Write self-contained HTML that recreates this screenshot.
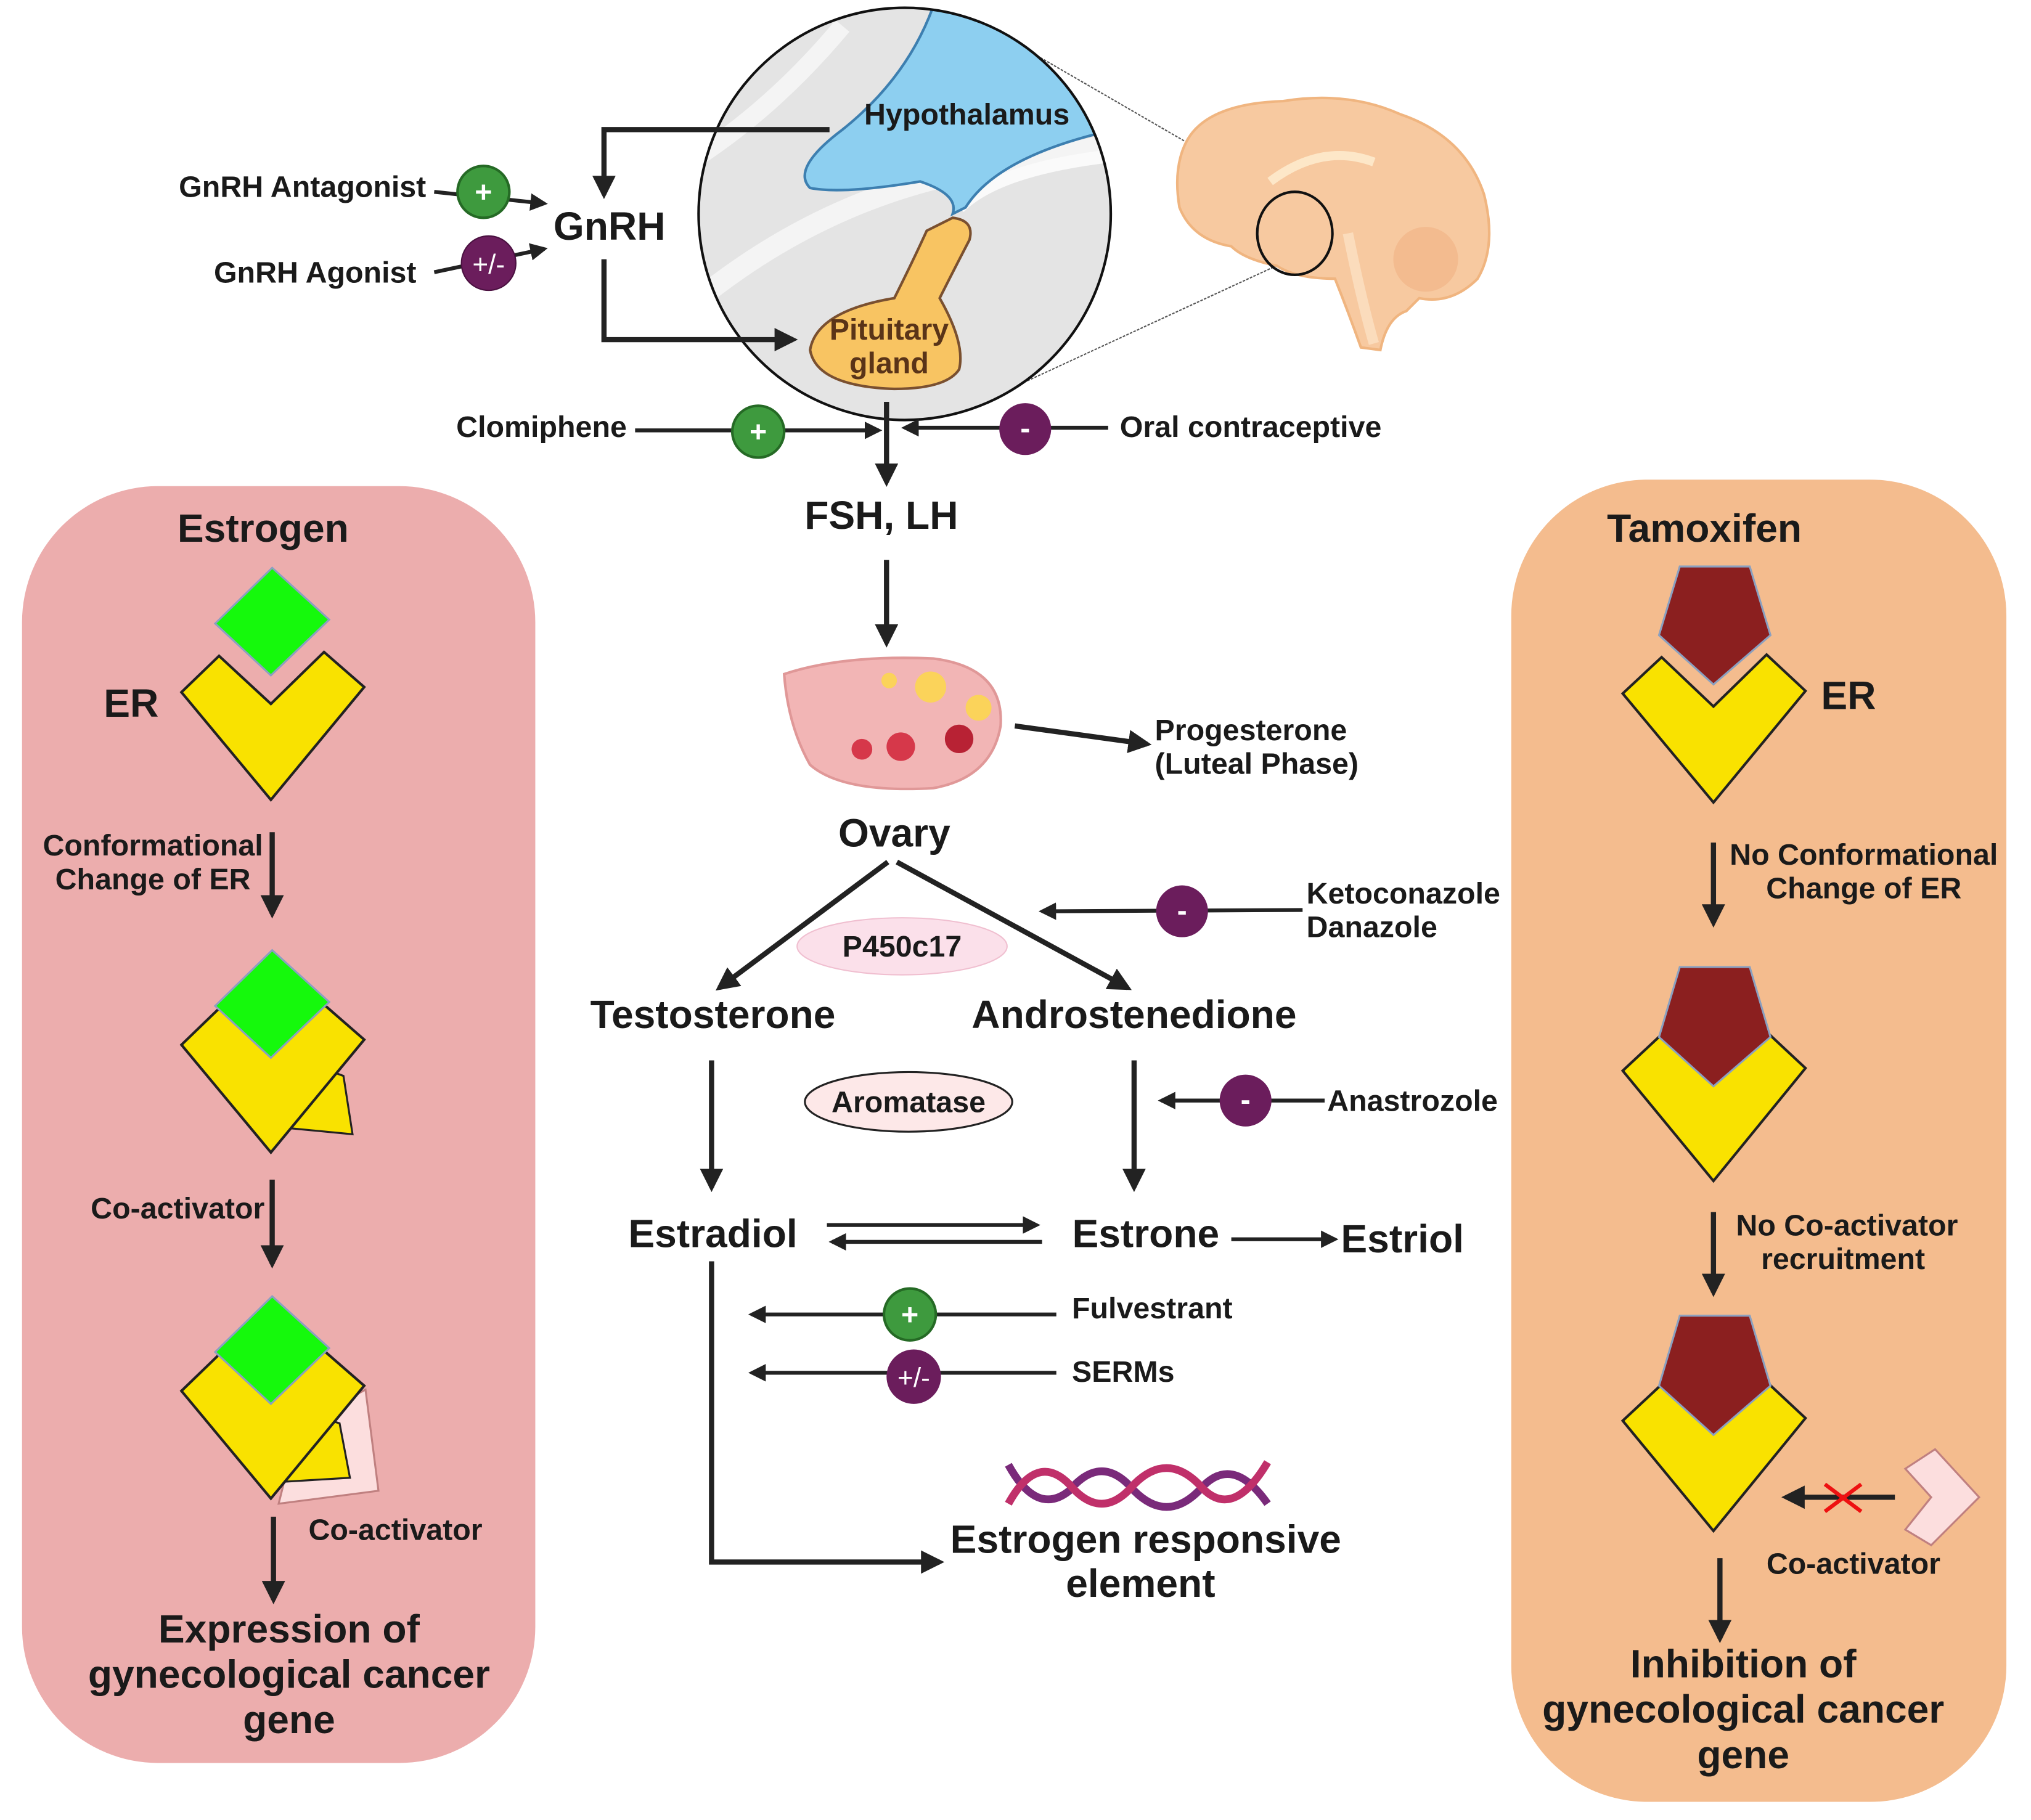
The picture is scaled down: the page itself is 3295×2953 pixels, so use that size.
<!DOCTYPE html>
<html><head><meta charset="utf-8"><style>
html,body{margin:0;padding:0;background:#fff}
svg{display:block}
text{font-family:"Liberation Sans",sans-serif;font-weight:bold;fill:#1a1a1a}
</style></head><body>
<svg width="3295" height="2953" viewBox="0 0 1567 1404" preserveAspectRatio="none" xmlns="http://www.w3.org/2000/svg">
<defs>
<marker id="a" viewBox="0 0 10 10" refX="8" refY="5" markerWidth="4.5" markerHeight="4.5" orient="auto"><path d="M0,0L10,5L0,10z" fill="#222"/></marker>
<clipPath id="cc"><circle cx="698" cy="165" r="159"/></clipPath>
</defs>
<!-- panels -->
<rect x="17" y="375" width="396" height="985" rx="105" fill="#ecadad"/>
<rect x="1166" y="370" width="382" height="1020" rx="105" fill="#f4bc8e"/>

<!-- circle zoom -->
<line x1="795" y1="40" x2="985" y2="150" stroke="#555" stroke-width="1" stroke-dasharray="2,1"/>
<line x1="790" y1="295" x2="1000" y2="198" stroke="#555" stroke-width="1" stroke-dasharray="2,1"/>
<g clip-path="url(#cc)">
<rect x="538" y="5" width="322" height="322" fill="#e4e4e4"/>
<path d="M540,120 Q600,80 650,20" stroke="#f4f4f4" stroke-width="14" fill="none"/>
<path d="M540,230 Q640,150 760,130 Q820,120 860,110" stroke="#f4f4f4" stroke-width="16" fill="none"/>
<path d="M740,160 Q770,130 860,120" stroke="#fafafa" stroke-width="10" fill="none"/>
<path d="M720,5 Q700,60 650,100 Q610,130 625,145 Q650,150 710,140 Q740,150 735,165 L745,160 Q770,120 860,100 L860,5z" fill="#8dcff0" stroke="#3d7fb0" stroke-width="2"/>
<path d="M735,168 Q752,170 748,185 Q735,210 725,230 Q745,265 740,285 Q730,300 690,300 Q630,298 625,270 Q630,240 690,230 Q705,200 715,178z" fill="#f8c462" stroke="#7a5030" stroke-width="2"/>
</g>
<circle cx="698" cy="165" r="159" fill="none" stroke="#111" stroke-width="2"/>
<text x="746" y="96" font-size="23" text-anchor="middle">Hypothalamus</text>
<text x="686" y="262" font-size="23" text-anchor="middle" style="fill:#5a3418">Pituitary</text>
<text x="686" y="288" font-size="23" text-anchor="middle" style="fill:#5a3418">gland</text>

<!-- brain -->
<path d="M915,110 Q930,80 990,78 Q1040,70 1080,88 Q1130,105 1145,150 Q1155,190 1140,215 Q1120,235 1095,230 L1085,240 Q1070,245 1065,270 L1050,268 Q1040,240 1030,215 Q1000,215 985,205 Q960,200 950,190 Q920,185 910,160 Q905,130 915,110z" fill="#f7c9a0" stroke="#f0b580" stroke-width="2"/>
<path d="M980,140 Q1020,110 1060,125" stroke="#fde7c8" stroke-width="7" fill="none"/>
<path d="M1040,180 Q1050,230 1060,265" stroke="#fbdcbc" stroke-width="8" fill="none"/>
<circle cx="1100" cy="200" r="25" fill="#f3bb8f"/>
<ellipse cx="999" cy="180" rx="29" ry="32" fill="none" stroke="#111" stroke-width="2"/>

<!-- GnRH -->
<text x="427" y="185" font-size="30.5">GnRH</text>
<polyline points="640,100 466,100 466,150" fill="none" stroke="#222" stroke-width="4" marker-end="url(#a)"/>
<polyline points="466,200 466,262 612,262" fill="none" stroke="#222" stroke-width="4" marker-end="url(#a)"/>
<text x="138" y="152" font-size="23">GnRH Antagonist</text>
<text x="165" y="218" font-size="23">GnRH Agonist</text>
<line x1="335" y1="148" x2="420" y2="157" stroke="#222" stroke-width="3" marker-end="url(#a)"/>
<line x1="335" y1="210" x2="420" y2="192" stroke="#222" stroke-width="3" marker-end="url(#a)"/>
<circle cx="373" cy="148" r="20" fill="#3e9a3e" stroke="#256a25" stroke-width="2"/><text x="373" y="156" font-size="23" text-anchor="middle" style="fill:#fff">+</text>
<circle cx="377" cy="203" r="21" fill="#6b1d5c" stroke="#4a1040"/><text x="377" y="211" font-size="21" text-anchor="middle" style="fill:#fff;font-weight:normal">+/-</text>

<!-- Clomiphene / oral -->
<line x1="684" y1="310" x2="684" y2="372" stroke="#222" stroke-width="4" marker-end="url(#a)"/>
<text x="352" y="337" font-size="23">Clomiphene</text>
<line x1="490" y1="332" x2="678" y2="332" stroke="#222" stroke-width="3" marker-end="url(#a)"/>
<circle cx="585" cy="333" r="20" fill="#3e9a3e" stroke="#256a25" stroke-width="2"/><text x="585" y="341" font-size="23" text-anchor="middle" style="fill:#fff">+</text>
<line x1="855" y1="330" x2="698" y2="330" stroke="#222" stroke-width="3" marker-end="url(#a)"/>
<circle cx="791" cy="331" r="20" fill="#6b1d5c"/><text x="791" y="338" font-size="23" text-anchor="middle" style="fill:#fff">-</text>
<text x="864" y="337" font-size="23">Oral contraceptive</text>

<text x="680" y="408" font-size="30.5" text-anchor="middle">FSH, LH</text>
<line x1="684" y1="432" x2="684" y2="496" stroke="#222" stroke-width="4" marker-end="url(#a)"/>

<!-- ovary -->
<path d="M605,520 Q650,505 720,508 Q775,515 772,560 Q765,600 720,608 Q650,612 625,590 Q608,560 605,520z" fill="#f2b5b5" stroke="#e09898" stroke-width="2"/>
<circle cx="718" cy="530" r="12" fill="#fbd35a"/><circle cx="755" cy="546" r="10" fill="#fbd35a"/><circle cx="686" cy="525" r="6" fill="#fbd35a"/>
<circle cx="665" cy="578" r="8" fill="#d6384a"/><circle cx="695" cy="576" r="11" fill="#d6384a"/><circle cx="740" cy="570" r="11" fill="#b82234"/>
<line x1="783" y1="560" x2="885" y2="574" stroke="#222" stroke-width="4" marker-end="url(#a)"/>
<text x="891" y="571" font-size="23">Progesterone</text>
<text x="891" y="597" font-size="23">(Luteal Phase)</text>
<text x="690" y="653" font-size="30.5" text-anchor="middle">Ovary</text>

<line x1="685" y1="665" x2="555" y2="762" stroke="#222" stroke-width="4" marker-end="url(#a)"/>
<line x1="692" y1="665" x2="870" y2="762" stroke="#222" stroke-width="4" marker-end="url(#a)"/>
<ellipse cx="696" cy="730" rx="81" ry="22" fill="#fbe0ea" stroke="#f0bfd0"/>
<text x="696" y="738" font-size="23" text-anchor="middle">P450c17</text>
<line x1="1005" y1="702" x2="804" y2="703" stroke="#222" stroke-width="3" marker-end="url(#a)"/>
<circle cx="912" cy="703" r="20" fill="#6b1d5c"/><text x="912" y="710" font-size="23" text-anchor="middle" style="fill:#fff">-</text>
<text x="1008" y="697" font-size="23">Ketoconazole</text>
<text x="1008" y="723" font-size="23">Danazole</text>

<text x="550" y="793" font-size="30.5" text-anchor="middle">Testosterone</text>
<text x="875" y="793" font-size="30.5" text-anchor="middle">Androstenedione</text>
<line x1="549" y1="818" x2="549" y2="916" stroke="#222" stroke-width="4" marker-end="url(#a)"/>
<line x1="875" y1="818" x2="875" y2="916" stroke="#222" stroke-width="4" marker-end="url(#a)"/>
<ellipse cx="701" cy="850" rx="80" ry="23" fill="#fde8e8" stroke="#222" stroke-width="1.5"/>
<text x="701" y="858" font-size="23" text-anchor="middle">Aromatase</text>
<line x1="1022" y1="849" x2="896" y2="849" stroke="#222" stroke-width="3" marker-end="url(#a)"/>
<circle cx="961" cy="849" r="20" fill="#6b1d5c"/><text x="961" y="856" font-size="23" text-anchor="middle" style="fill:#fff">-</text>
<text x="1024" y="857" font-size="23">Anastrozole</text>

<text x="550" y="962" font-size="30.5" text-anchor="middle">Estradiol</text>
<text x="884" y="962" font-size="30.5" text-anchor="middle">Estrone</text>
<text x="1082" y="966" font-size="30.5" text-anchor="middle">Estriol</text>
<line x1="638" y1="945" x2="800" y2="945" stroke="#222" stroke-width="3" marker-end="url(#a)"/>
<line x1="804" y1="958" x2="642" y2="958" stroke="#222" stroke-width="3" marker-end="url(#a)"/>
<line x1="950" y1="956" x2="1030" y2="956" stroke="#222" stroke-width="3" marker-end="url(#a)"/>
<polyline points="549,973 549,1205 725,1205" fill="none" stroke="#222" stroke-width="4" marker-end="url(#a)"/>
<line x1="815" y1="1014" x2="580" y2="1014" stroke="#222" stroke-width="3" marker-end="url(#a)"/>
<circle cx="702" cy="1014" r="20" fill="#3e9a3e" stroke="#256a25" stroke-width="2"/><text x="702" y="1022" font-size="23" text-anchor="middle" style="fill:#fff">+</text>
<text x="827" y="1017" font-size="23">Fulvestrant</text>
<line x1="815" y1="1059" x2="580" y2="1059" stroke="#222" stroke-width="3" marker-end="url(#a)"/>
<circle cx="705" cy="1062" r="21" fill="#6b1d5c"/><text x="705" y="1070" font-size="21" text-anchor="middle" style="fill:#fff;font-weight:normal">+/-</text>
<text x="827" y="1066" font-size="23">SERMs</text>
<!-- DNA -->
<path d="M778,1130 Q800,1170 825,1150 Q850,1120 875,1150 Q900,1175 925,1150 Q950,1120 978,1160" stroke="#7a2a7a" stroke-width="6" fill="none"/>
<path d="M778,1160 Q800,1120 825,1145 Q850,1175 875,1145 Q900,1120 925,1145 Q950,1175 978,1128" stroke="#c0306a" stroke-width="6" fill="none"/>
<text x="884" y="1198" font-size="30.5" text-anchor="middle">Estrogen responsive</text>
<text x="880" y="1232" font-size="30.5" text-anchor="middle">element</text>

<!-- LEFT PANEL -->
<text x="203" y="418" font-size="30.5" text-anchor="middle">Estrogen</text>
<polygon points="210,438 254,478 209,521 166,481" fill="#15f90c" stroke="#8aa0c0" stroke-width="1.5"/>
<polygon points="140,534 169,506 209,543 250,503 281,530 209,617" fill="#f9e200" stroke="#222" stroke-width="2"/>
<text x="80" y="553" font-size="30.5">ER</text>
<text x="118" y="660" font-size="23" text-anchor="middle">Conformational</text>
<text x="118" y="686" font-size="23" text-anchor="middle">Change of ER</text>
<line x1="210" y1="642" x2="210" y2="705" stroke="#222" stroke-width="4" marker-end="url(#a)"/>
<polygon points="238,820 265,830 272,875 220,870" fill="#f9e200" stroke="#222" stroke-width="1.5"/>
<polygon points="140,806 169,778 209,815 250,775 281,802 209,889" fill="#f9e200" stroke="#222" stroke-width="2"/>
<polygon points="210,733 254,773 209,816 166,776" fill="#15f90c" stroke="#8aa0c0" stroke-width="1.5"/>
<text x="70" y="940" font-size="23">Co-activator</text>
<line x1="210" y1="910" x2="210" y2="975" stroke="#222" stroke-width="4" marker-end="url(#a)"/>
<polygon points="230,1100 282,1072 292,1150 215,1160" fill="#fcdede" stroke="#c08080" stroke-width="1.5"/>
<polygon points="236,1090 262,1098 270,1140 220,1143" fill="#f9e200" stroke="#222" stroke-width="1.5"/>
<polygon points="140,1073 169,1045 209,1082 250,1042 281,1069 209,1156" fill="#f9e200" stroke="#222" stroke-width="2"/>
<polygon points="210,1000 254,1040 209,1083 166,1043" fill="#15f90c" stroke="#8aa0c0" stroke-width="1.5"/>
<text x="238" y="1188" font-size="23">Co-activator</text>
<line x1="211" y1="1170" x2="211" y2="1234" stroke="#222" stroke-width="4" marker-end="url(#a)"/>
<text x="223" y="1267" font-size="30.5" text-anchor="middle">Expression of</text>
<text x="223" y="1302" font-size="30.5" text-anchor="middle">gynecological cancer</text>
<text x="223" y="1337" font-size="30.5" text-anchor="middle">gene</text>

<!-- RIGHT PANEL -->
<text x="1315" y="418" font-size="30.5" text-anchor="middle">Tamoxifen</text>
<polygon points="1252,535 1282,507 1322,545 1363,505 1393,533 1322,619" fill="#f9e200" stroke="#222" stroke-width="2"/>
<polygon points="1296,437 1350,437 1366,490 1322,528 1280,490" fill="#8b1f1f" stroke="#8aa0c0" stroke-width="1.5"/>
<text x="1405" y="547" font-size="30.5">ER</text>
<text x="1438" y="667" font-size="23" text-anchor="middle">No Conformational</text>
<text x="1438" y="693" font-size="23" text-anchor="middle">Change of ER</text>
<line x1="1322" y1="650" x2="1322" y2="712" stroke="#222" stroke-width="4" marker-end="url(#a)"/>
<polygon points="1252,826 1282,798 1322,836 1363,796 1393,824 1322,911" fill="#f9e200" stroke="#222" stroke-width="2"/>
<polygon points="1296,746 1350,746 1366,800 1322,838 1280,800" fill="#8b1f1f" stroke="#8aa0c0" stroke-width="1.5"/>
<text x="1425" y="953" font-size="23" text-anchor="middle">No Co-activator</text>
<text x="1422" y="979" font-size="23" text-anchor="middle">recruitment</text>
<line x1="1322" y1="935" x2="1322" y2="997" stroke="#222" stroke-width="4" marker-end="url(#a)"/>
<polygon points="1252,1096 1282,1068 1322,1106 1363,1066 1393,1094 1322,1181" fill="#f9e200" stroke="#222" stroke-width="2"/>
<polygon points="1296,1015 1350,1015 1366,1069 1322,1107 1280,1069" fill="#8b1f1f" stroke="#8aa0c0" stroke-width="1.5"/>
<polygon points="1470,1133 1493,1118 1527,1155 1490,1192 1470,1180 1490,1155" fill="#fcdede" stroke="#c08080" stroke-width="1.5"/>
<line x1="1462" y1="1155" x2="1378" y2="1155" stroke="#222" stroke-width="4" marker-end="url(#a)"/>
<path d="M1408,1145L1436,1166M1436,1145L1408,1166" stroke="#ee1111" stroke-width="3"/>
<text x="1430" y="1214" font-size="23" text-anchor="middle">Co-activator</text>
<line x1="1327" y1="1202" x2="1327" y2="1264" stroke="#222" stroke-width="4" marker-end="url(#a)"/>
<text x="1345" y="1294" font-size="30.5" text-anchor="middle">Inhibition of</text>
<text x="1345" y="1329" font-size="30.5" text-anchor="middle">gynecological cancer</text>
<text x="1345" y="1364" font-size="30.5" text-anchor="middle">gene</text>
</svg>
</body></html>
